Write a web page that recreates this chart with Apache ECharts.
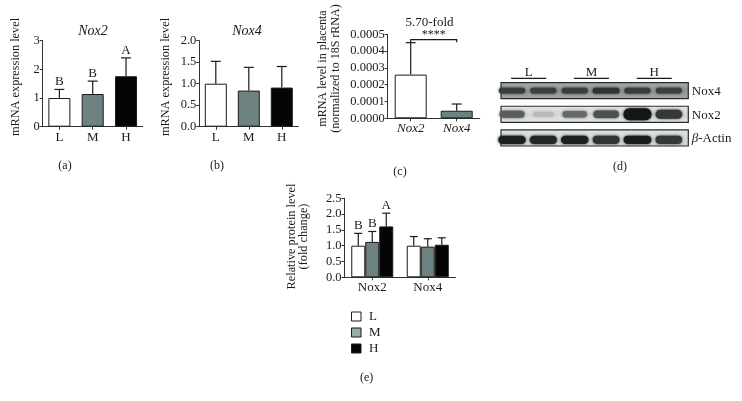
<!DOCTYPE html>
<html><head><meta charset="utf-8">
<script src="https://cdn.jsdelivr.net/npm/echarts@6/dist/echarts.min.js"></script>
<style>html,body{margin:0;padding:0;background:#fff}#c{width:742px;height:401px}</style>
</head><body><div id="c"></div>
<script>
// ---------- data ----------
const groups = ['L', 'M', 'H'];
const nox2Mrna = [1.00, 1.14, 1.76];
const nox2MrnaTop = [1.30, 1.59, 2.40];
const nox2Letters = ['B', 'B', 'A'];
const nox4Mrna = [1.00, 0.84, 0.91];
const nox4MrnaTop = [1.52, 1.38, 1.40];
const genes = ['Nox2', 'Nox4'];
const placenta = [0.000260, 0.000045];
const placentaTop = [0.000450, 0.000085];
const sigLevel = [0.000468, 0.000450];
const sigLabel = '****';
const foldLabel = '5.70-fold';
const proteinL = [1.00, 1.00];
const proteinLTop = [1.39, 1.29];
const proteinM = [1.12, 0.97];
const proteinMTop = [1.45, 1.22];
const proteinH = [1.61, 1.03];
const proteinHTop = [2.03, 1.25];
const proteinLLetters = ['B', ''];
const proteinMLetters = ['B', ''];
const proteinHLetters = ['A', ''];
const blotRows = ['Nox4', 'Nox2', 'β-Actin'];
const blotGroups = ['L', 'M', 'H'];
const blotGroupLanes = [[1, 2], [3, 4], [5, 6]];
const nox4Bands = [0.80, 0.78, 0.80, 0.88, 0.80, 0.78];
const nox2Bands = [0.66, 0.20, 0.60, 0.72, 1.00, 0.84];
const actinBands = [0.95, 0.92, 0.95, 0.86, 0.97, 0.84];

// ---------- style ----------
const FONT = 'Liberation Serif';
const INK = '#1a1a1a';
const AX = '#333';
const C_L = '#ffffff', C_M = '#6f8282', C_H = '#050505', C_M_LEG = '#9cabad';
const barColors = [C_L, C_M, C_H];

function yAx(g, min, max, interval, dec) {
  return {
    type: 'value', gridIndex: g, min: min, max: max, interval: interval,
    axisLine: { show: true, lineStyle: { color: AX, width: 1 } },
    axisTick: { show: true, length: 3, lineStyle: { color: AX } },
    splitLine: { show: false },
    axisLabel: { fontFamily: FONT, fontSize: 12.5, color: INK, margin: 3,
      formatter: v => v.toFixed(dec) }
  };
}
function xAx(g, data, italic) {
  return {
    type: 'category', gridIndex: g, data: data,
    axisLine: { show: true, lineStyle: { color: AX, width: 1 } },
    axisTick: { show: true, alignWithLabel: true, length: 3, lineStyle: { color: AX } },
    axisLabel: { fontFamily: FONT, fontSize: 13, color: INK, margin: 4,
      fontStyle: italic ? 'italic' : 'normal' }
  };
}
function barItems(vals) {
  return vals.map((v, i) => ({ value: v, itemStyle: { color: barColors[i], borderColor: '#1a1a1a', borderWidth: 1 } }));
}
function errSeries(ax, means, tops, letters, capW, offset) {
  return {
    type: 'custom', xAxisIndex: ax, yAxisIndex: ax, z: 5, silent: true,
    data: means.map((m, i) => [i, m, tops[i]]),
    renderItem: function (params, api) {
      const i = api.value(0);
      const p0 = api.coord([i, api.value(1)]);
      const p1 = api.coord([i, api.value(2)]);
      const x = p0[0] + offset;
      const lab = letters ? letters[params.dataIndex] : '';
      const ch = [
        { type: 'line', shape: { x1: x, y1: p0[1], x2: x, y2: p1[1] }, style: { stroke: '#1a1a1a', lineWidth: 1.2 } },
        { type: 'line', shape: { x1: x - capW / 2, y1: p1[1], x2: x + capW / 2, y2: p1[1] }, style: { stroke: '#1a1a1a', lineWidth: 1.2 } }
      ];
      if (lab) ch.push({ type: 'text', style: { text: lab, x: x, y: p1[1] - 1, align: 'center', verticalAlign: 'bottom',
        textAlign: 'center', textVerticalAlign: 'bottom', fontFamily: FONT, fontSize: 13, fill: INK } });
      return { type: 'group', children: ch };
    }
  };
}

// blot helpers
const bandRows = [nox4Bands, nox2Bands, actinBands];
const bandBase = [4, 5, 6.5];
const blotX = [0.65, 6.62];
const stripHalf = 0.34;
const bandData = [];
bandRows.forEach((arr, r) => arr.forEach((d, j) => bandData.push([j + 1, r, d])));

function bandGray(r, d) {
  const g = Math.round(r === 0 ? 150 - 115 * d : 225 - 205 * d);
  return 'rgb(' + g + ',' + (g + 3) + ',' + (g + 3) + ')';
}

function txt(text, x, y, opts) {
  opts = opts || {};
  return {
    type: 'text', x: x, y: y, rotation: opts.rot ? Math.PI / 2 : 0, silent: true,
    style: { text: text, x: 0, y: 0, align: 'center', verticalAlign: 'middle', textAlign: 'center', textVerticalAlign: 'middle',
      fontFamily: FONT, fontSize: opts.size || 12.5, fontStyle: opts.italic ? 'italic' : 'normal', fill: INK }
  };
}

const chart = echarts.init(document.getElementById('c'), null, { renderer: 'canvas' });
chart.setOption({
  backgroundColor: '#ffffff',
  animation: false,
  grid: [
    { left: 42.7, top: 40.7, width: 100, height: 86 },
    { left: 199.3, top: 40.7, width: 99, height: 86 },
    { left: 387.7, top: 34.3, width: 92, height: 84 },
    { left: 344.5, top: 198.3, width: 111, height: 79 },
    { left: 501, top: 82.3, width: 187.3, height: 63.7 }
  ],
  xAxis: [
    xAx(0, groups, false), xAx(1, groups, false), xAx(2, genes, true), xAx(3, genes, false),
    { type: 'value', gridIndex: 4, min: blotX[0], max: blotX[1], show: false }
  ],
  yAxis: [
    yAx(0, 0, 3, 1, 0), yAx(1, 0, 2, 0.5, 1), yAx(2, 0, 0.0005, 0.0001, 4), yAx(3, 0, 2.5, 0.5, 1),
    { type: 'value', gridIndex: 4, min: -0.352, max: 2.34, inverse: true, show: false }
  ],
  legend: {
    orient: 'vertical', left: 346, top: 305, itemWidth: 9.5, itemHeight: 9, itemGap: 3, icon: 'rect',
    selectedMode: false,
    data: [
      { name: 'L', itemStyle: { color: C_L, borderColor: '#1a1a1a', borderWidth: 1 } },
      { name: 'M', itemStyle: { color: C_M_LEG, borderColor: '#1a1a1a', borderWidth: 1 } },
      { name: 'H', itemStyle: { color: C_H, borderColor: '#1a1a1a', borderWidth: 1 } }
    ],
    textStyle: { fontFamily: FONT, fontSize: 13, color: INK, padding: [0, 0, 0, 3] }
  },
  series: [
    { name: 'a', type: 'bar', xAxisIndex: 0, yAxisIndex: 0, barWidth: 22, data: barItems(nox2Mrna), silent: true },
    errSeries(0, nox2Mrna, nox2MrnaTop, nox2Letters, 10, 0),
    { name: 'b', type: 'bar', xAxisIndex: 1, yAxisIndex: 1, barWidth: 22, data: barItems(nox4Mrna), silent: true },
    errSeries(1, nox4Mrna, nox4MrnaTop, null, 10, 0),
    { name: 'c', type: 'bar', xAxisIndex: 2, yAxisIndex: 2, barWidth: 32, data: barItems(placenta), silent: true },
    errSeries(2, placenta, placentaTop, null, 10, 0),
    {
      type: 'custom', xAxisIndex: 2, yAxisIndex: 2, z: 6, silent: true, data: [[0, 1]],
      renderItem: function (params, api) {
        const a = api.coord([api.value(0), sigLevel[1]]);
        const b = api.coord([api.value(0), sigLevel[0]]);
        const c = api.coord([api.value(1), sigLevel[0]]);
        const d = api.coord([api.value(1), sigLevel[1]]);
        return { type: 'group', children: [
          { type: 'polyline', shape: { points: [a, b, c, [d[0], d[1] - 0.5]] }, style: { stroke: '#1a1a1a', lineWidth: 1.2, fill: null } },
          { type: 'text', style: { text: sigLabel, x: (b[0] + c[0]) / 2, y: b[1] + 1, align: 'center', verticalAlign: 'bottom',
            textAlign: 'center', textVerticalAlign: 'bottom', fontFamily: FONT, fontSize: 12, fill: INK } }
        ] };
      }
    },
    { name: 'L', type: 'bar', xAxisIndex: 3, yAxisIndex: 3, barWidth: 14, barGap: '0%', data: proteinL, silent: true,
      itemStyle: { color: C_L, borderColor: '#1a1a1a', borderWidth: 1 } },
    { name: 'M', type: 'bar', xAxisIndex: 3, yAxisIndex: 3, barWidth: 14, barGap: '0%', data: proteinM, silent: true,
      itemStyle: { color: C_M, borderColor: '#1a1a1a', borderWidth: 1 } },
    { name: 'H', type: 'bar', xAxisIndex: 3, yAxisIndex: 3, barWidth: 14, barGap: '0%', data: proteinH, silent: true,
      itemStyle: { color: C_H, borderColor: '#1a1a1a', borderWidth: 1 } },
    errSeries(3, proteinL, proteinLTop, proteinLLetters, 8, -14),
    errSeries(3, proteinM, proteinMTop, proteinMLetters, 8, 0),
    errSeries(3, proteinH, proteinHTop, proteinHLetters, 8, 14),
    // blot strips + labels
    {
      type: 'custom', xAxisIndex: 4, yAxisIndex: 4, z: 2, silent: true,
      data: blotRows.map((n, i) => [i]),
      renderItem: function (params, api) {
        const r = api.value(0);
        const tl = api.coord([blotX[0], r - stripHalf]);
        const br = api.coord([blotX[1], r + stripHalf]);
        const fills = [
          new echarts.graphic.LinearGradient(0, 0, 0, 1, [{ offset: 0, color: '#a9aeae' }, { offset: 0.5, color: '#8e9494' }, { offset: 1, color: '#a3a8a8' }]),
          new echarts.graphic.LinearGradient(0, 0, 0, 1, [{ offset: 0, color: '#e4e7e7' }, { offset: 0.5, color: '#d2d6d6' }, { offset: 1, color: '#e6e8e8' }]),
          new echarts.graphic.LinearGradient(0, 0, 0, 1, [{ offset: 0, color: '#dfe2e2' }, { offset: 1, color: '#cfd3d3' }])
        ];
        const name = blotRows[params.dataIndex];
        const label = name === 'β-Actin' ? '{i|β}-Actin' : name;
        return { type: 'group', children: [
          { type: 'rect', shape: { x: tl[0], y: tl[1], width: br[0] - tl[0], height: br[1] - tl[1] },
            style: { fill: fills[r], stroke: '#2a2a2a', lineWidth: 1.2 } },
          { type: 'text', style: { text: label, x: br[0] + 3.5, y: (tl[1] + br[1]) / 2 + 1, align: 'left', verticalAlign: 'middle',
            textAlign: 'left', textVerticalAlign: 'middle', fontFamily: FONT, fontSize: 13, fill: INK,
            rich: { i: { fontStyle: 'italic', fontFamily: FONT, fontSize: 13, fill: INK } } } }
        ] };
      }
    },
    {
      type: 'custom', xAxisIndex: 4, yAxisIndex: 4, z: 3, silent: true, data: bandData,
      renderItem: function (params, api) {
        const lane = api.value(0), r = api.value(1), d = api.value(2);
        const p = api.coord([lane, r + (r === 2 ? 0.08 : 0)]);
        const w = 19 + 9 * d;
        const h = bandBase[r] + (r === 1 ? 7 * Math.pow(d, 3) : 2 * d);
        const col = bandGray(r, d);
        return { type: 'rect', shape: { x: p[0] - w / 2, y: p[1] - h / 2, width: w, height: h, r: h / 2 },
          style: { fill: col, shadowBlur: 3, shadowColor: col } };
      }
    },
    {
      type: 'custom', xAxisIndex: 4, yAxisIndex: 4, z: 3, silent: true,
      data: blotGroupLanes.map(g => [g[0], g[1]]),
      renderItem: function (params, api) {
        const a = api.coord([api.value(0), -0.352]);
        const b = api.coord([api.value(1), -0.352]);
        const cx = (a[0] + b[0]) / 2 + 1;
        const y = a[1] - 4;
        return { type: 'group', children: [
          { type: 'line', shape: { x1: cx - 17.5, y1: y, x2: cx + 17.5, y2: y }, style: { stroke: '#1a1a1a', lineWidth: 1.2 } },
          { type: 'text', style: { text: blotGroups[params.dataIndex], x: cx, y: y + 1, align: 'center', verticalAlign: 'bottom',
            textAlign: 'center', textVerticalAlign: 'bottom', fontFamily: FONT, fontSize: 13, fill: INK } }
        ] };
      }
    }
  ],
  graphic: [
    txt('mRNA expression level', 15.5, 77, { rot: true, size: 12.3 }),
    txt('mRNA expression level', 165.5, 77, { rot: true, size: 12.3 }),
    txt('mRNA level in placenta', 323.3, 68.5, { rot: true, size: 12 }),
    txt('(normalized to 18S rRNA)', 336, 68.5, { rot: true, size: 12 }),
    txt('Relative protein level', 291.5, 236.5, { rot: true, size: 12.3 }),
    txt('(fold change)', 303.5, 236.5, { rot: true, size: 12.3 }),
    txt('Nox2', 93, 31.7, { italic: true, size: 14 }),
    txt('Nox4', 247, 31.7, { italic: true, size: 14 }),
    txt(foldLabel, 429.5, 22.7, { size: 13 }),
    txt('(a)', 65, 166, { size: 12 }),
    txt('(b)', 217, 166, { size: 12 }),
    txt('(c)', 400, 172.3, { size: 12 }),
    txt('(d)', 620, 167.3, { size: 12 }),
    txt('(e)', 366.7, 377.7, { size: 12 })
  ]
});
</script>
</body></html>
